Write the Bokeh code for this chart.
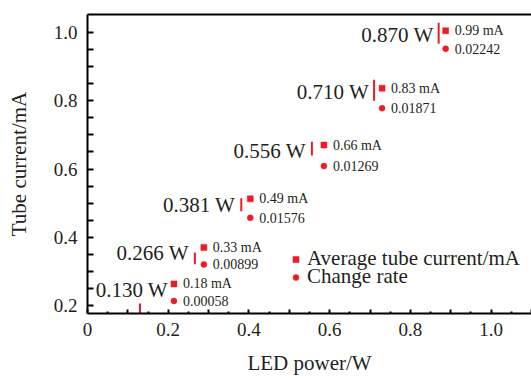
from bokeh.plotting import figure
from bokeh.models import ColumnDataSource, FixedTicker, Legend, LegendItem, Range1d, LinearAxis
from bokeh.core.properties import value
from bokeh.embed import file_html
from bokeh.resources import INLINE

# ---------------- data ----------------
power = [0.130, 0.266, 0.381, 0.556, 0.710, 0.870]            # LED power / W
current = [0.190, 0.338, 0.495, 0.660, 0.831, 0.998]          # tube current (bar centre) / mA
spread = [0.016, 0.017, 0.019, 0.020, 0.031, 0.031]           # half length of the current bar / mA
power_labels = ["0.130 W", "0.266 W", "0.381 W", "0.556 W", "0.710 W", "0.870 W"]
avg_labels = ["0.18 mA", "0.33 mA", "0.49 mA", "0.66 mA", "0.83 mA", "0.99 mA"]
rate_labels = ["0.00058", "0.00899", "0.01576", "0.01269", "0.01871", "0.02242"]

x_ticks = [0.0, 0.1, 0.2, 0.3, 0.4, 0.5, 0.6, 0.7, 0.8, 0.9, 1.0, 1.1]
x_tick_labels = ["0", "", "0.2", "", "0.4", "", "0.6", "", "0.8", "", "1.0", ""]
x_minor = [0.05, 0.15, 0.25, 0.35, 0.45, 0.55, 0.65, 0.75, 0.85, 0.95, 1.05]
y_ticks = [0.2, 0.25, 0.3, 0.35, 0.4, 0.45, 0.5, 0.55, 0.6, 0.65, 0.7, 0.75, 0.8, 0.85, 0.9, 0.95, 1.0]
y_tick_labels = ["0.2", "", "", "", "0.4", "", "", "", "0.6", "", "", "", "0.8", "", "", "", "1.0"]

# ---------------- layout (screen px) ----------------
X0, X1 = 0.0, 1.1
Y0, Y1 = 0.1765, 1.053
W, H = 531, 379
BL, BR, BT, BB = 87, 0, 14, 66
FW, FH = W - BL - BR, H - BT - BB
ppx = FW / (X1 - X0)
ppy = FH / (Y1 - Y0)

label_dx = [28, -6, -6, -6, -5, -5]
label_dy = [-19, -5, 0, 2, 2, 1.5]
mark_dx = [34, 9, 9, 12, 8, 7]
square_dy = [-25, -11, -6, -3.5, -2, -2.5]
circle_dy = [-8, 6, 13, 17.5, 18, 15.5]

RED = "#ed1c24"
FONT = value("Liberation Serif")
TXT = "#231f20"

src = ColumnDataSource(dict(
    x=power, y=current,
    y_lo=[c - s for c, s in zip(current, spread)],
    y_hi=[c + s for c, s in zip(current, spread)],
    plabel=power_labels, ldx=label_dx, ldy=label_dy,
    sq_x=[p + d / ppx for p, d in zip(power, mark_dx)],
    sq_y=[c - d / ppy for c, d in zip(current, square_dy)],
    ci_x=[p + d / ppx for p, d in zip(power, mark_dx)],
    ci_y=[c - d / ppy for c, d in zip(current, circle_dy)],
    avg=avg_labels, rate=rate_labels,
))

p = figure(width=W, height=H, output_backend="svg", toolbar_location=None,
           x_range=Range1d(X0, X1), y_range=Range1d(Y0, Y1),
           min_border_left=BL, min_border_right=BR, min_border_top=BT, min_border_bottom=BB)
p.grid.visible = False
p.outline_line_color = None
p.background_fill_color = "white"
p.border_fill_color = "white"

# axes
xa = p.xaxis[0]
xa.ticker = FixedTicker(ticks=x_ticks, minor_ticks=x_minor)
xa.major_label_overrides = {t: l for t, l in zip(x_ticks, x_tick_labels)}
xa.axis_label = "LED power/W"
ya = p.yaxis[0]
ya.ticker = FixedTicker(ticks=y_ticks, minor_ticks=[])
ya.major_label_overrides = {t: l for t, l in zip(y_ticks, y_tick_labels)}
ya.axis_label = "Tube current/mA"
for ax in (xa, ya):
    ax.axis_line_width = 2
    ax.axis_line_color = "black"
    ax.major_tick_line_width = 2
    ax.minor_tick_line_width = 2
    ax.major_tick_out = 0
    ax.minor_tick_out = 0
    ax.major_label_text_font = "Liberation Serif"
    ax.major_label_text_font_size = "19px"
    ax.major_label_text_color = TXT
    ax.axis_label_text_font = "Liberation Serif"
    ax.axis_label_text_font_size = "21px"
    ax.axis_label_text_font_style = "normal"
    ax.axis_label_text_color = TXT
xa.major_tick_in = 4
xa.minor_tick_in = 2
xa.major_label_standoff = 9
xa.axis_label_standoff = 12
ya.major_tick_in = 6
ya.major_label_standoff = 10
ya.axis_label_standoff = 20

# top frame line
top = LinearAxis(ticker=FixedTicker(ticks=[]), axis_line_width=2, axis_line_color="black",
                 major_tick_line_color=None, minor_tick_line_color=None,
                 major_label_text_font_size="0px", major_label_standoff=0)
p.add_layout(top, "above")

# current bars
p.segment(x0="x", y0="y_lo", x1="x", y1="y_hi", source=src, line_color=RED, line_width=2)

# power labels
p.text(x="x", y="y", text="plabel", x_offset="ldx", y_offset="ldy", source=src,
       text_align="right", text_baseline="middle", text_font=FONT,
       text_font_size="21px", text_color=TXT)

# annotation markers
sq = p.scatter(x="sq_x", y="sq_y", source=src, marker="square", size=6,
               fill_color=RED, line_color=RED, line_width=0.5)
ci = p.scatter(x="ci_x", y="ci_y", source=src, marker="circle", size=6,
               fill_color=RED, line_color=RED, line_width=0.5)
p.text(x="sq_x", y="sq_y", text="avg", x_offset=9, source=src,
       text_align="left", text_baseline="middle", text_font=FONT,
       text_font_size="14px", text_color=TXT)
p.text(x="ci_x", y="ci_y", text="rate", x_offset=9, source=src,
       text_align="left", text_baseline="middle", text_font=FONT,
       text_font_size="14px", text_color=TXT)

legend_items = [("Average tube current/mA", sq, 42), ("Change rate", ci, 24)]
for lab, rend, ly in legend_items:
    lg = Legend(items=[LegendItem(label=lab, renderers=[rend])],
                location=(201, ly), orientation="vertical",
                padding=0, margin=0, spacing=0,
                glyph_width=15, glyph_height=22, label_height=19, label_standoff=4,
                label_text_font="Liberation Serif", label_text_font_size="21px",
                label_text_color=TXT, border_line_color=None,
                background_fill_alpha=0)
    p.add_layout(lg, "center")

open("out.html", "w").write(file_html(p, INLINE))
